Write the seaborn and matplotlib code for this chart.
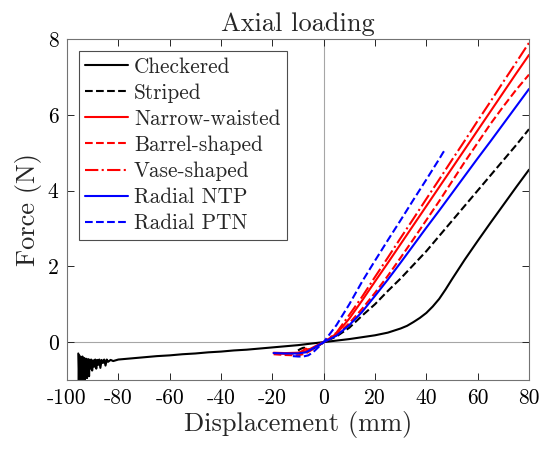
import matplotlib
matplotlib.use("Agg")
import matplotlib.pyplot as plt
import seaborn as sns

# ---------------- data ----------------
checkered_x = [-95.6, -95.4, -95.2, -95.0, -94.8, -94.6, -94.4, -94.2, -94.0, -93.8,
               -93.6, -93.4, -93.2, -93.0, -92.8, -92.6, -92.4, -92.2, -92.0, -91.8,
               -91.6, -91.4, -91.2, -91.0, -90.6, -90.2, -89.8, -89.4, -89.0, -88.6,
               -88.2, -87.8, -87.4, -87.0, -86.5, -86.0, -85.5, -85.0, -84.5, -84.0,
               -83.0, -82.0, -80, -75, -70, -65, -60, -55, -50, -45, -40, -35, -30,
               -25, -20, -15, -10, -5, 0, 5, 10, 15, 20, 25, 30, 32.5, 35, 37.5, 40,
               42.5, 45, 47.5, 50, 52.5, 55, 60, 65, 70, 75, 80]
checkered_y = [-0.30, -1.00, -0.35, -0.98, -0.40, -1.00, -0.45, -0.95, -0.38, -1.00,
               -0.50, -0.90, -0.42, -1.00, -0.48, -0.85, -0.44, -0.95, -0.50, -0.80,
               -0.45, -0.90, -0.47, -0.70, -0.46, -0.75, -0.48, -0.65, -0.46, -0.70,
               -0.47, -0.60, -0.46, -0.68, -0.47, -0.55, -0.46, -0.62, -0.46, -0.52,
               -0.47, -0.50, -0.46, -0.43, -0.40, -0.37, -0.35, -0.32, -0.30, -0.27,
               -0.25, -0.22, -0.20, -0.17, -0.14, -0.11, -0.08, -0.04, 0.00, 0.04,
               0.08, 0.13, 0.18, 0.25, 0.36, 0.43, 0.53, 0.64, 0.77, 0.94, 1.14, 1.39,
               1.66, 1.92, 2.18, 2.67, 3.15, 3.62, 4.09, 4.55]

striped_x = [-10, -9, -8, -7, -6, -5, -3, -1, 0, 5, 10, 15, 20, 25, 30, 35, 40, 45,
             50, 55, 60, 65, 70, 75, 80]
striped_y = [-0.22, -0.18, -0.15, -0.15, -0.19, -0.20, -0.14, -0.05, 0.00, 0.15,
             0.38, 0.70, 1.00, 1.35, 1.68, 2.04, 2.40, 2.80, 3.20, 3.60, 4.00, 4.40,
             4.80, 5.20, 5.62]

narrow_x = [-19.5, -15, -10, -7, -5, -3, -1, 0, 5, 10, 15, 20, 25, 30, 35, 40, 45,
            50, 55, 60, 65, 70, 75, 80]
narrow_y = [-0.28, -0.29, -0.28, -0.24, -0.17, -0.10, -0.03, 0.00, 0.22, 0.62,
            1.10, 1.60, 2.09, 2.59, 3.09, 3.59, 4.09, 4.59, 5.09, 5.59, 6.09, 6.59,
            7.09, 7.58]

barrel_x = [-19.5, -15, -10, -7, -5, -3, -1, 0, 5, 10, 15, 20, 25, 30, 35, 40, 45,
            50, 55, 60, 65, 70, 75, 80]
barrel_y = [-0.32, -0.34, -0.35, -0.30, -0.22, -0.13, -0.04, 0.00, 0.18, 0.50,
            0.88, 1.30, 1.75, 2.23, 2.72, 3.22, 3.72, 4.24, 4.76, 5.26, 5.76, 6.22,
            6.66, 7.06]

vase_x = [-19, -15, -10, -8, -7, -6, -5, -3, -1, 0, 5, 10, 15, 20, 25, 30, 35, 40,
          45, 50, 55, 60, 65, 70, 75, 80]
vase_y = [-0.30, -0.31, -0.30, -0.22, -0.17, -0.20, -0.20, -0.12, -0.04, 0.00,
          0.25, 0.72, 1.20, 1.72, 2.23, 2.75, 3.26, 3.78, 4.29, 4.81, 5.32, 5.84,
          6.35, 6.87, 7.38, 7.90]

ntp_x = [-19.5, -15, -10, -7, -5, -3, -1, 0, 5, 10, 15, 20, 25, 30, 35, 40, 45, 50,
         55, 60, 65, 70, 75, 80]
ntp_y = [-0.29, -0.30, -0.30, -0.27, -0.20, -0.12, -0.04, 0.00, 0.17, 0.45, 0.80,
         1.22, 1.65, 2.10, 2.56, 3.02, 3.47, 3.93, 4.39, 4.85, 5.30, 5.76, 6.22,
         6.68]

ptn_x = [-12, -10, -8, -6, -4, -2, 0, 5, 10, 15, 20, 25, 30, 35, 40, 45, 46.5, 47.3]
ptn_y = [-0.37, -0.38, -0.38, -0.35, -0.26, -0.13, 0.00, 0.45, 1.00, 1.60, 2.15,
         2.69, 3.22, 3.76, 4.29, 4.83, 5.00, 5.08]

series_names = ["Checkered", "Striped", "Narrow-waisted", "Barrel-shaped",
                "Vase-shaped", "Radial NTP", "Radial PTN"]
series_x = [checkered_x, striped_x, narrow_x, barrel_x, vase_x, ntp_x, ptn_x]
series_y = [checkered_y, striped_y, narrow_y, barrel_y, vase_y, ntp_y, ptn_y]
series_colors = ["black", "black", "#ff0000", "#ff0000", "#ff0000", "#0000ff", "#0000ff"]
series_styles = ["-", "--", "-", "--", "-.", "-", "--"]

x_ticks = [-100, -80, -60, -40, -20, 0, 20, 40, 60, 80]
y_ticks = [0, 2, 4, 6, 8]

# ---------------- style ----------------
sns.set_style("ticks")
plt.rcParams["font.family"] = ["cmr10", "DejaVu Serif"]
plt.rcParams["axes.unicode_minus"] = False
plt.rcParams["mathtext.fontset"] = "cm"

fig, ax = plt.subplots(figsize=(5.43, 4.49), dpi=100)
fig.subplots_adjust(left=67 / 543, right=529 / 543, top=1 - 39 / 449, bottom=1 - 380 / 449)

ax.axvline(0, color="0.65", lw=0.8, zorder=0)
ax.axhline(0, color="0.65", lw=0.8, zorder=0)

for name, xs, ys, c, ls in zip(series_names, series_x, series_y, series_colors, series_styles):
    sns.lineplot(x=xs, y=ys, ax=ax, color=c, linestyle=ls, lw=1.5, label=name,
                 sort=False, estimator=None)

ax.set_xlim(-100, 80)
ax.set_ylim(-1, 8)
ax.set_xticks(x_ticks)
ax.set_yticks(y_ticks)
ax.tick_params(direction="in", length=5, width=0.7, top=True, right=True,
               labelsize=15.5, colors="0.15", pad=6)
for lbl in ax.get_xticklabels() + ax.get_yticklabels():
    lbl.set_color("black")
for sp in ax.spines.values():
    sp.set_color("0.45")
    sp.set_linewidth(0.8)
    sp.set_visible(True)

ax.set_title("Axial loading", fontsize=19, pad=6)
ax.set_xlabel("Displacement (mm)", fontsize=19, labelpad=2)
ax.set_ylabel("Force (N)", fontsize=19, labelpad=4)

leg = ax.legend(loc="upper left", fontsize=15.3, frameon=True, fancybox=False,
                framealpha=1, edgecolor="0.3", handlelength=2.0, handletextpad=0.3,
                borderpad=0.3, labelspacing=0.31, borderaxespad=0.55)
leg.get_frame().set_linewidth(0.8)

fig.savefig("out.png", dpi=100)
